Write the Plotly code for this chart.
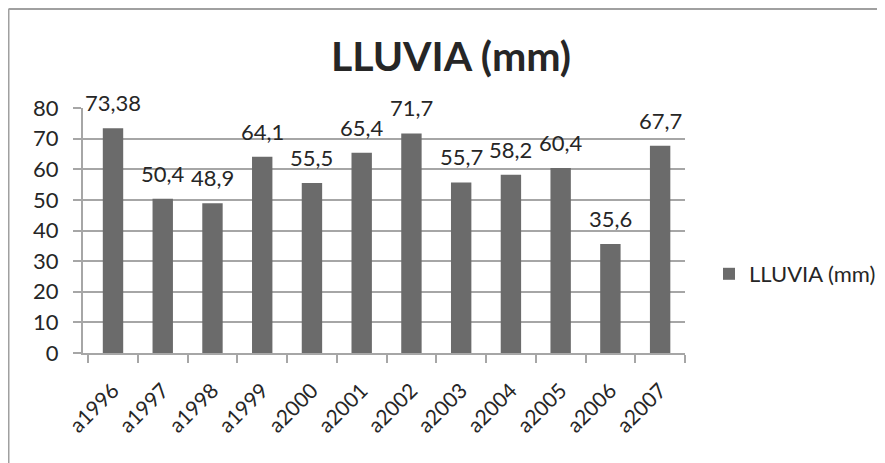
import plotly.graph_objects as go

categories = ["a1996", "a1997", "a1998", "a1999", "a2000", "a2001",
              "a2002", "a2003", "a2004", "a2005", "a2006", "a2007"]
lluvia = [73.38, 50.4, 48.9, 64.1, 55.5, 65.4, 71.7, 55.7, 58.2, 60.4, 35.6, 67.7]
y_ticks = [0, 10, 20, 30, 40, 50, 60, 70, 80]

FONT = "Lato, Carlito, Calibri, sans-serif"
TXT = "#262626"
GRID = "#a6a6a6"
BAR = "#6b6b6b"

# page has an 8px body margin; work in figure coordinates
OFF = 8
W, H = 885 - OFF, 463 - OFF
L, T = 83 - OFF, 108 - OFF
B = H - (353 - OFF)
R = W - (685 - OFF)
pw, ph = W - L - R, H - T - B


def px_x(px):
    return (px - OFF - L) / pw


def px_y(py):
    return (H - B - (py - OFF)) / ph


fig = go.Figure()
fig.add_trace(go.Bar(
    x=categories, y=lluvia, name="LLUVIA (mm)",
    marker=dict(color=BAR, line=dict(width=0)),
))

annotations = []
for c, v in zip(categories, lluvia):
    annotations.append(dict(
        x=c, y=v, xref="x", yref="y", text=str(v).replace(".", ","),
        showarrow=False, yanchor="bottom", yshift=10,
        font=dict(family=FONT, size=22, color=TXT),
    ))

top_y = px_y(OFF + 1)
shapes = [
    dict(type="line", xref="paper", yref="paper",
         x0=px_x(8.5), x1=px_x(8.5), y0=top_y, y1=px_y(480),
         line=dict(color="#a0a0a0", width=2)),
    dict(type="line", xref="paper", yref="paper",
         x0=px_x(8.5), x1=px_x(900), y0=top_y, y1=top_y,
         line=dict(color="#a0a0a0", width=2)),
]

fig.update_layout(
    width=W, height=H,
    margin=dict(l=L, r=R, t=T, b=B, autoexpand=False),
    paper_bgcolor="white", plot_bgcolor="white",
    title=dict(text="<b>LLUVIA (mm)</b>", x=px_x(451), xref="paper",
               xanchor="center", y=1 - 49 / H, yanchor="middle",
               font=dict(family=FONT, size=41, color=TXT)),
    bargap=0.59,
    showlegend=True,
    legend=dict(x=px_x(709), y=px_y(274), xanchor="left", yanchor="middle",
                font=dict(family=FONT, size=22, color=TXT),
                bgcolor="rgba(0,0,0,0)", itemwidth=30),
    annotations=annotations,
    shapes=shapes,
    xaxis=dict(
        type="category", tickangle=-45,
        showline=True, linecolor=GRID, linewidth=2,
        ticks="outside", tickson="boundaries", ticklen=8, tickcolor=GRID, tickwidth=2,
        showgrid=False,
        ticklabelstandoff=15,
        tickfont=dict(family=FONT, size=21, color=TXT),
    ),
    yaxis=dict(
        range=[0, 80], tickvals=y_ticks,
        showline=True, linecolor=GRID, linewidth=2,
        ticks="outside", ticklen=8, tickcolor=GRID, tickwidth=2,
        showgrid=True, gridcolor=GRID, gridwidth=2,
        zeroline=False,
        ticklabelstandoff=10,
        tickfont=dict(family=FONT, size=22, color=TXT),
    ),
)

fig.write_html("out.html")
